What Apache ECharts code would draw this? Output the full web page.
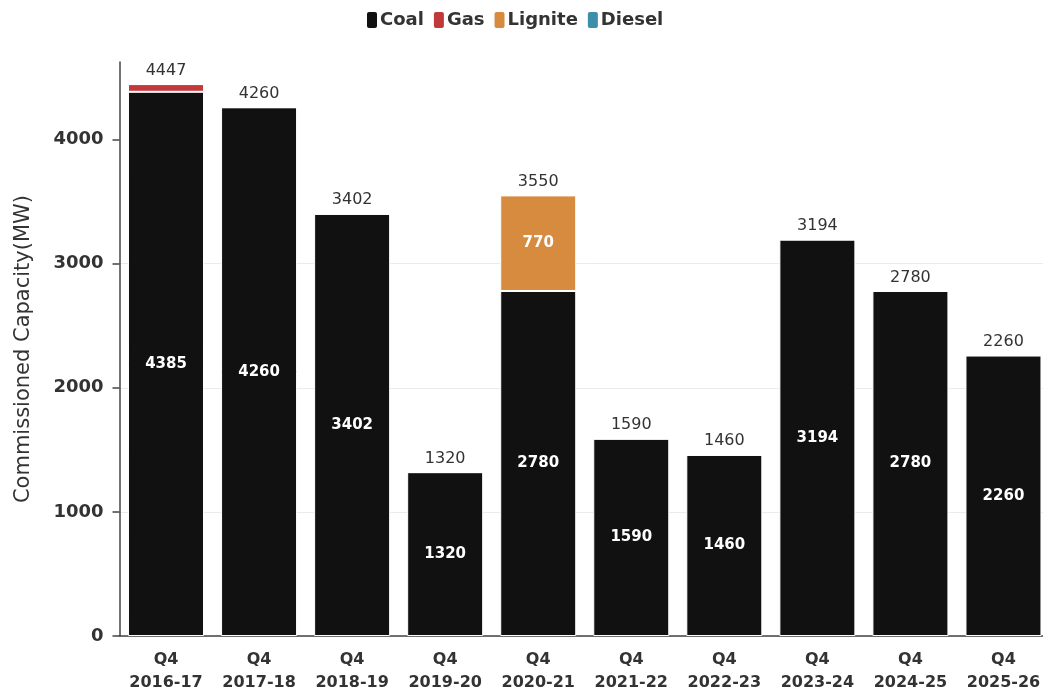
<!DOCTYPE html>
<html>
<head>
<meta charset="utf-8">
<script src="https://cdn.jsdelivr.net/npm/echarts@6/dist/echarts.min.js"></script>
<style>
  html, body { margin: 0; padding: 0; background: #fff; overflow: hidden; }
  #chart { width: 1050px; height: 695px; }
</style>
</head>
<body>
<div id="chart"></div>
<script>
// Commissioned thermal capacity per quarter, by fuel (MW)
const categories = ['Q4\n2016-17', 'Q4\n2017-18', 'Q4\n2018-19', 'Q4\n2019-20', 'Q4\n2020-21',
                    'Q4\n2021-22', 'Q4\n2022-23', 'Q4\n2023-24', 'Q4\n2024-25', 'Q4\n2025-26'];
const coal    = [4385, 4260, 3402, 1320, 2780, 1590, 1460, 3194, 2780, 2260];
const gas     = [62, 0, 0, 0, 0, 0, 0, 0, 0, 0];
const lignite = [0, 0, 0, 0, 770, 0, 0, 0, 0, 0];
const diesel  = [0, 0, 0, 0, 0, 0, 0, 0, 0, 0];
const yTicks  = [0, 1000, 2000, 3000, 4000];

const totals = categories.map((_, i) => coal[i] + gas[i] + lignite[i] + diesel[i]);

const FONT = '"DejaVu Sans", sans-serif';
const colors = { coal: '#111111', gas: '#c2393b', lignite: '#d68b3e', diesel: '#3d8ea9' };

function seg(name, data, color, showInside) {
  return {
    name, type: 'bar', stack: 'total', data, barWidth: 76,
    itemStyle: { color, borderColor: '#ffffff', borderWidth: 1 },
    label: {
      show: showInside, position: 'inside', color: '#ffffff',
      fontFamily: FONT, fontWeight: 'bold', fontSize: 15,
      formatter: p => (p.value > 0 ? p.value : '')
    },
    emphasis: { disabled: true }
  };
}

const chart = echarts.init(document.getElementById('chart'), null, { renderer: 'canvas' });
const dieselSeries = seg('Diesel', diesel, colors.diesel, false);
// the top series carries the stack total above each column
dieselSeries.label = {
  show: true, position: 'top', distance: 5, color: '#333333',
  fontFamily: FONT, fontWeight: 'normal', fontSize: 16,
  formatter: p => totals[p.dataIndex]
};

chart.setOption({
  animation: false,
  backgroundColor: '#ffffff',
  legend: {
    top: 5, left: 360, itemGap: 8,
    itemWidth: 12, itemHeight: 18,
    icon: 'roundRect',
    textStyle: { fontFamily: FONT, fontWeight: 'bold', fontSize: 18, color: '#333333', padding: [0, 0, 0, -3] },
    data: ['Coal', 'Gas', 'Lignite', 'Diesel']
  },
  grid: { left: 119.5, right: 0, top: 62, bottom: 59, containLabel: false },
  xAxis: {
    type: 'category', data: categories,
    axisLine: { lineStyle: { color: '#444444', width: 1.5 } },
    axisTick: { alignWithLabel: true, interval: 0, length: 8, lineStyle: { color: '#444444', width: 1.5 } },
    axisLabel: { interval: 0, fontFamily: FONT, fontWeight: 'bold', fontSize: 16, color: '#333333',
                 lineHeight: 23, margin: 12 }
  },
  yAxis: {
    type: 'value', min: 0, max: 4625, interval: 1000,
    name: 'Commissioned Capacity(MW)', nameLocation: 'middle', nameGap: 85, nameRotate: 90,
    nameTextStyle: { fontFamily: FONT, fontWeight: 'normal', fontSize: 21, color: '#333333' },
    axisLine: { show: true, lineStyle: { color: '#444444', width: 1.5 } },
    axisTick: { show: true, length: 7, customValues: yTicks, lineStyle: { color: '#444444', width: 1.5 } },
    axisLabel: { fontFamily: FONT, fontWeight: 'bold', fontSize: 18, color: '#333333', margin: 16,
                 customValues: yTicks, formatter: v => String(v) },
    splitLine: { show: true, showMaxLine: false, lineStyle: { color: '#ebebeb', width: 1 } }
  },
  series: [
    seg('Coal', coal, colors.coal, true),
    seg('Gas', gas, colors.gas, false),
    seg('Lignite', lignite, colors.lignite, true),
    dieselSeries
  ]
});
</script>
</body>
</html>
